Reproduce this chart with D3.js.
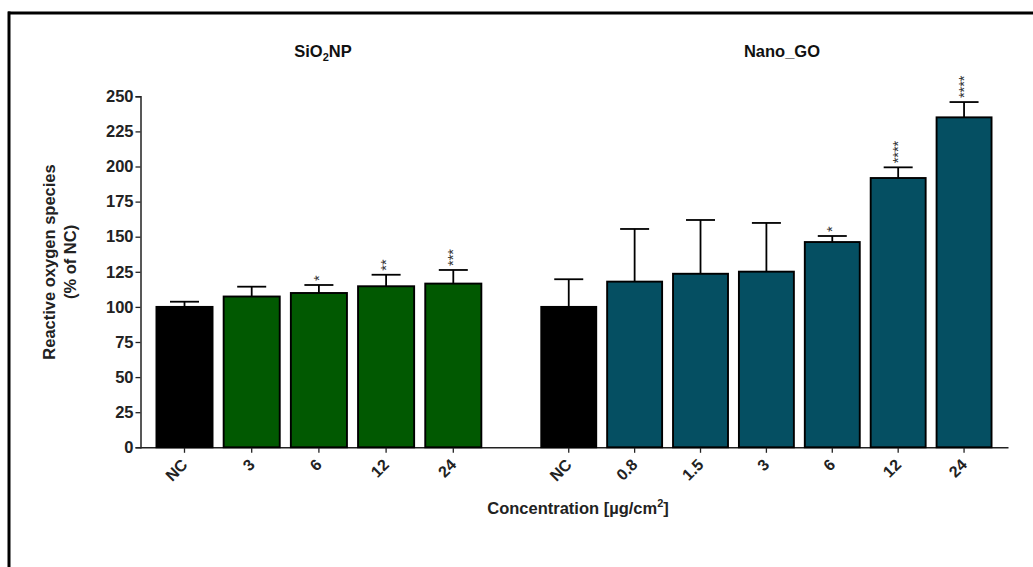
<!DOCTYPE html>
<html>
<head>
<meta charset="utf-8">
<script src="https://cdn.jsdelivr.net/npm/d3@7"></script>
<style>
  html, body { margin: 0; padding: 0; background: #fff; }
  svg { display: block; font-family: "Liberation Sans", Arial, sans-serif; }
</style>
</head>
<body>
<svg id="chart" width="1033" height="567"></svg>
<script>
// SiO2 nanoparticles
const sioCategories = ["NC", "3", "6", "12", "24"];
const sioMeans      = [100, 107.4, 109.9, 114.7, 116.6];
const sioErrors     = [3.7, 7.0, 5.7, 8.2, 9.7];
const sioStars      = ["", "", "*", "**", "***"];

// Nano graphene oxide
const goCategories = ["NC", "0.8", "1.5", "3", "6", "12", "24"];
const goMeans      = [100, 118.0, 123.6, 125.1, 146.2, 191.8, 235.0];
const goErrors     = [19.7, 37.5, 38.3, 34.7, 4.3, 7.6, 10.9];
const goStars      = ["", "", "", "", "*", "****", "****"];

const yTicks = [0, 25, 50, 75, 100, 125, 150, 175, 200, 225, 250];

const colNC = "#000000";
const colSio = "#015901";
const colGo = "#054f62";
const FONT = "Liberation Sans, Arial, sans-serif";

const svg = d3.select("#chart");

// outer frame (top and left edges)
svg.append("line").attr("x1", 8).attr("x2", 1040).attr("y1", 13).attr("y2", 13)
  .attr("stroke", "#000").attr("stroke-width", 3);
svg.append("line").attr("x1", 9).attr("x2", 9).attr("y1", 11.5).attr("y2", 580)
  .attr("stroke", "#000").attr("stroke-width", 3);

const y = d3.scaleLinear().domain([0, 250]).range([447.3, 96.3]);

const xSio = d3.scaleBand().domain(sioCategories).range([150.9, 486.9])
  .paddingInner(0.143).paddingOuter(0.0715);
const xGo = d3.scaleBand().domain(goCategories).range([535.8, 997])
  .paddingInner(0.143).paddingOuter(0.0715);

// y axis
const yAxis = svg.append("g").attr("transform", "translate(140.5,0)")
  .call(d3.axisLeft(y).tickValues(yTicks).tickSize(5).tickPadding(2));
yAxis.select(".domain").attr("stroke", "#222").attr("stroke-width", 1.5);
yAxis.selectAll(".tick line").attr("stroke", "#222").attr("stroke-width", 1.3);
yAxis.selectAll(".tick text").attr("font-size", 16.5).attr("font-weight", "bold")
  .attr("fill", "#222").attr("font-family", FONT);

// x axis baseline across both groups
svg.append("line").attr("x1", 140).attr("x2", 1008.5)
  .attr("y1", y(0) + 0.5).attr("y2", y(0) + 0.5)
  .attr("stroke", "#222").attr("stroke-width", 1.5);

function drawGroup(x, cats, means, errs, stars, fill) {
  const g = svg.append("g");
  const data = cats.map((c, i) => ({ c, m: means[i], e: errs[i], s: stars[i], i }));
  const bw = x.bandwidth();

  // error bars (upper only)
  g.selectAll("line.err").data(data).join("line")
    .attr("x1", d => x(d.c) + bw / 2).attr("x2", d => x(d.c) + bw / 2)
    .attr("y1", d => y(d.m)).attr("y2", d => y(d.m + d.e))
    .attr("stroke", "#000").attr("stroke-width", 1.8);
  g.selectAll("line.cap").data(data).join("line")
    .attr("x1", d => x(d.c) + bw / 2 - 14.5).attr("x2", d => x(d.c) + bw / 2 + 14.5)
    .attr("y1", d => y(d.m + d.e)).attr("y2", d => y(d.m + d.e))
    .attr("stroke", "#000").attr("stroke-width", 1.8);

  // bars
  g.selectAll("rect").data(data).join("rect")
    .attr("x", d => x(d.c) + 0.75).attr("width", bw - 1.5)
    .attr("y", d => y(d.m)).attr("height", d => y(0) - y(d.m))
    .attr("fill", d => d.i === 0 ? colNC : fill)
    .attr("stroke", "#000").attr("stroke-width", 1.9);

  // significance stars, rotated
  g.selectAll("text.star").data(data.filter(d => d.s)).join("text")
    .attr("transform", d => `translate(${x(d.c) + bw / 2 + 5},${y(d.m + d.e) - 4}) rotate(-90)`)
    .attr("font-size", 14.5).attr("fill", "#333").attr("font-family", FONT)
    .text(d => d.s);

  // ticks + rotated labels
  const ax = svg.append("g").attr("transform", `translate(0,${y(0) + 0.5})`)
    .call(d3.axisBottom(x).tickSize(5).tickPadding(4));
  ax.select(".domain").remove();
  ax.selectAll(".tick line").attr("stroke", "#222").attr("stroke-width", 1.3);
  ax.selectAll(".tick text")
    .attr("font-size", 16).attr("font-weight", "bold").attr("fill", "#222")
    .attr("font-family", FONT)
    .attr("text-anchor", "end").attr("x", 0).attr("y", 0).attr("dy", 0)
    .attr("transform", "translate(4,18) rotate(-45)");
}

drawGroup(xSio, sioCategories, sioMeans, sioErrors, sioStars, colSio);
drawGroup(xGo, goCategories, goMeans, goErrors, goStars, colGo);

// group titles
const t1 = svg.append("text").attr("x", 323).attr("y", 57).attr("text-anchor", "middle")
  .attr("font-size", 16.5).attr("font-weight", "bold").attr("fill", "#111").attr("font-family", FONT);
t1.append("tspan").text("SiO");
t1.append("tspan").attr("font-size", 11).attr("dy", 4).text("2");
t1.append("tspan").attr("dy", -4).text("NP");

svg.append("text").attr("x", 782).attr("y", 57).attr("text-anchor", "middle")
  .attr("font-size", 16.5).attr("font-weight", "bold").attr("fill", "#111").attr("font-family", FONT)
  .text("Nano_GO");

// x axis title
const xt = svg.append("text").attr("x", 578).attr("y", 514).attr("text-anchor", "middle")
  .attr("font-size", 16.5).attr("font-weight", "bold").attr("fill", "#222").attr("font-family", FONT);
xt.append("tspan").text("Concentration [µg/cm");
xt.append("tspan").attr("font-size", 11).attr("dy", -7).text("2");
xt.append("tspan").attr("dy", 7).text("]");

// y axis title
const yt = svg.append("text").attr("transform", "translate(55,262) rotate(-90)")
  .attr("text-anchor", "middle").attr("font-size", 16.5).attr("font-weight", "bold")
  .attr("fill", "#222").attr("font-family", FONT);
yt.append("tspan").attr("x", 0).attr("dy", 0).text("Reactive oxygen species");
yt.append("tspan").attr("x", 0).attr("dy", 21).text("(% of NC)");
</script>
</body>
</html>
